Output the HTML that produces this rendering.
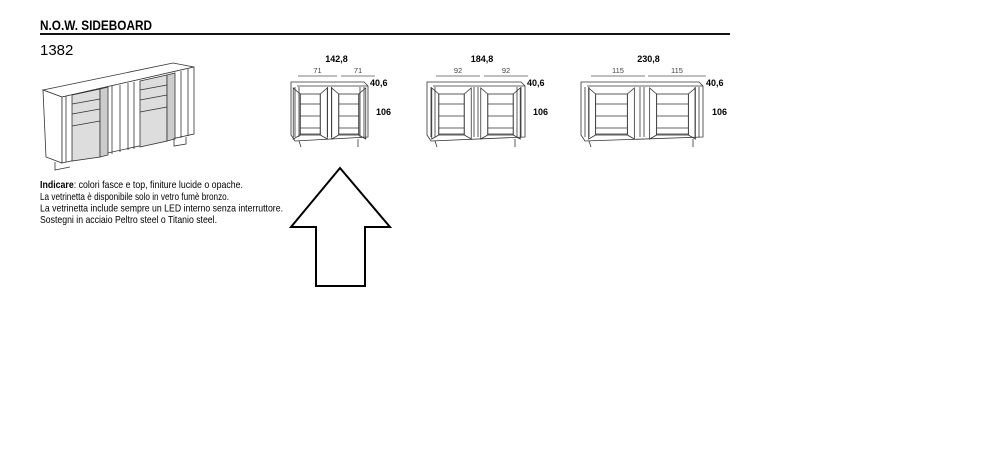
<!DOCTYPE html>
<html><head><meta charset="utf-8"><style>
html,body{margin:0;padding:0;background:#fff;width:1000px;height:473px;overflow:hidden}
svg{display:block}
text{font-family:"Liberation Sans",sans-serif}
</style></head><body>
<svg id="s" width="1000" height="473" viewBox="0 0 1000 473" xmlns="http://www.w3.org/2000/svg">
<text x="40" y="30" font-size="14" font-weight="bold" textLength="112" lengthAdjust="spacingAndGlyphs">N.O.W. SIDEBOARD</text>
<rect x="40" y="33" width="690" height="2" fill="#111"/>
<text x="40" y="55" font-size="15">1382</text>

<g stroke="#333" stroke-width="0.8" fill="#fff">
<polygon points="43,90 173,63 194,67 62,97"/>
<polygon points="43,90 62,97 62,163 46,157"/>
<polygon points="62,97 194,67 194,134 62,163"/>
<polygon points="72,95 100,89 100,157 72,161" fill="#ddd"/>
<polygon points="140,81 167,75 167,141 140,147" fill="#ddd"/>
<polygon points="100,89 108,87 108,155 100,157" fill="#ccc"/>
<polygon points="167,75 175,73 175,139 167,141" fill="#ccc"/>
<line x1="66" y1="96" x2="66" y2="162"/>
<line x1="112" y1="86" x2="112" y2="154"/>
<line x1="120" y1="85" x2="120" y2="152"/>
<line x1="128" y1="83" x2="128" y2="150"/>
<line x1="134" y1="82" x2="134" y2="149"/>
<line x1="181" y1="71" x2="181" y2="138"/>
<line x1="188" y1="69" x2="188" y2="136"/>
<line x1="72" y1="104" x2="100" y2="99"/>
<line x1="72" y1="114" x2="100" y2="109"/>
<line x1="72" y1="126" x2="100" y2="121"/>
<line x1="140" y1="90" x2="167" y2="85"/>
<line x1="140" y1="100" x2="167" y2="95"/>
<line x1="140" y1="112" x2="167" y2="107"/>
<polyline points="55,162 55,170 70,167" fill="none"/>
<polyline points="174,138 174,146 186,144 186,137" fill="none"/>
</g>

<text x="40" y="188" font-size="10.5" textLength="203" lengthAdjust="spacingAndGlyphs"><tspan font-weight="bold">Indicare</tspan>: colori fasce e top, finiture lucide o opache.</text>
<text x="40" y="200" font-size="10.5" textLength="189" lengthAdjust="spacingAndGlyphs">La vetrinetta è disponibile solo in vetro fumè bronzo.</text>
<text x="40" y="211.5" font-size="10.5" textLength="243" lengthAdjust="spacingAndGlyphs">La vetrinetta include sempre un LED interno senza interruttore.</text>
<text x="40" y="223" font-size="10.5" textLength="177" lengthAdjust="spacingAndGlyphs">Sostegni in acciaio Peltro steel o Titanio steel.</text>

<polygon points="340,168 390,227 365,227 365,286 316,286 316,227 291,227" fill="#fff" stroke="#000" stroke-width="2"/>
<g id="cabs"></g>
</svg>
<script>
const g=document.getElementById('cabs');let h='';
function cab(x0,x1,tot,half,d1,d2,lx){
 const y0=82,y1=141,mid=(x0+x1)/2,w=x1-x0;
 h+=`<text x="${(d1[0]+d2[1])/2}" y="62" font-size="9" font-weight="bold" text-anchor="middle">${tot}</text>`;
 h+=`<text x="${(d1[0]+d1[1])/2}" y="73" font-size="7.5" text-anchor="middle" fill="#444">${half}</text>`;
 h+=`<text x="${(d2[0]+d2[1])/2}" y="73" font-size="7.5" text-anchor="middle" fill="#444">${half}</text>`;
 h+=`<line x1="${d1[0]}" y1="76" x2="${d1[1]}" y2="76" stroke="#555" stroke-width="0.7"/>`;
 h+=`<line x1="${d2[0]}" y1="76" x2="${d2[1]}" y2="76" stroke="#555" stroke-width="0.7"/>`;
 h+=`<text x="${lx}" y="86" font-size="9" font-weight="bold">40,6</text>`;
 h+=`<text x="${lx+6}" y="115" font-size="9" font-weight="bold">106</text>`;
 h+=`<g stroke="#333" stroke-width="0.8" fill="none">`;
 h+=`<polygon points="${x0},${y0} ${x1-4},${y0} ${x1},${y0+4} ${x1},${y1-4} ${x0+4},${y1} ${x0},${y1-6}"/>`;
 h+=`<line x1="${x0+6}" y1="${y0+4}" x2="${x1}" y2="${y0+4}"/>`;
 for(const c of [x0+w*0.25,x0+w*0.75]){
  const iw=w*0.13;
  h+=`<rect x="${c-iw}" y="${y0+12}" width="${iw*2}" height="${y1-y0-18}"/>`;
  for(const yy of [y0+22,y0+34,y0+46,y0+52])h+=`<line x1="${c-iw}" y1="${yy}" x2="${c+iw}" y2="${yy}"/>`;
  h+=`<polygon points="${c-iw},${y0+12} ${c-iw-7},${y0+6} ${c-iw-7},${y1-2} ${c-iw},${y1-6}"/>`;
  h+=`<polygon points="${c+iw},${y0+12} ${c+iw+7},${y0+6} ${c+iw+7},${y1-2} ${c+iw},${y1-6}"/>`;
 }
 for(const xx of [x0+4,x0+8,mid-2,mid+2,x1-8,x1-4])h+=`<line x1="${xx}" y1="${y0+5}" x2="${xx}" y2="${y1-4}"/>`;
 h+=`<line x1="${x0+8}" y1="${y1}" x2="${x0+10}" y2="${y1+6}"/><line x1="${x1-10}" y1="${y1-2}" x2="${x1-10}" y2="${y1+6}"/>`;
 h+=`</g>`;
}
cab(291,368,'142,8','71',[298,337],[341,375],370);
cab(427,525,'184,8','92',[436,480],[484,528],527);
cab(581,703,'230,8','115',[591,645],[648,706],706);
g.innerHTML=h;
</script>
</body></html>
